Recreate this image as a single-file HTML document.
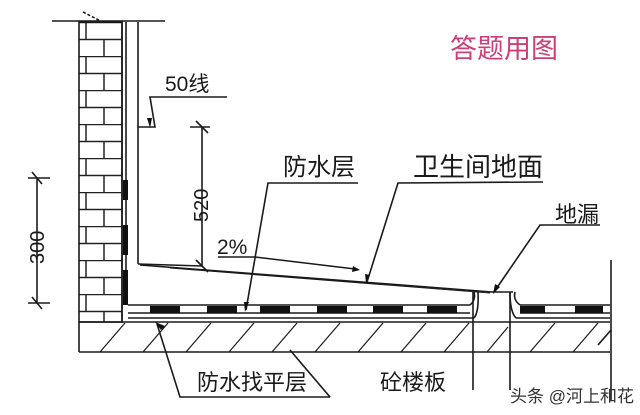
<!DOCTYPE html>
<html><head><meta charset="utf-8"><style>
html,body{margin:0;padding:0;background:#fff;width:640px;height:415px;overflow:hidden}
svg{display:block}
text{font-family:"Liberation Sans","Noto Sans CJK SC",sans-serif;fill:#1a1a1a}
</style></head><body>
<svg width="640" height="415" viewBox="0 0 640 415" xmlns="http://www.w3.org/2000/svg">
<defs>
<pattern id="br" x="79" y="22" width="43" height="34" patternUnits="userSpaceOnUse">
<rect width="43" height="34" fill="#fff"/>
<line x1="0" y1="0.5" x2="43" y2="0.5" stroke="#222" stroke-width="1.5"/>
<line x1="0" y1="17.5" x2="43" y2="17.5" stroke="#222" stroke-width="1.5"/>
<line x1="7" y1="0" x2="7" y2="17" stroke="#222" stroke-width="1.5"/>
<line x1="25" y1="17" x2="25" y2="34" stroke="#222" stroke-width="1.5"/>
</pattern>
</defs>
<g stroke="#1a1a1a" stroke-width="1.6" fill="none">
<line x1="52" y1="21" x2="165" y2="21"/>
<line x1="83" y1="12" x2="118" y2="30" stroke-dasharray="3,2"/>
<rect x="79" y="22" width="43" height="300" fill="url(#br)"/>
<line x1="122" y1="22" x2="122" y2="322"/>
<line x1="126" y1="22" x2="126" y2="305"/>
<line x1="138" y1="22" x2="138" y2="264"/>
<line x1="138" y1="264" x2="202" y2="266"/>
<line x1="140" y1="265" x2="492" y2="292"/>
<line x1="170" y1="268" x2="490" y2="293" stroke-width="1"/>
<line x1="492" y1="292" x2="513" y2="292"/>
<line x1="128" y1="305" x2="470" y2="305"/>
<line x1="128" y1="313" x2="470" y2="313"/>
<line x1="128" y1="318" x2="474" y2="318"/>
<path d="M470 305 Q476 300 474 292"/>
<path d="M474 318 Q479 312 478 292"/>
<path d="M520 305 Q513 300 515 292"/>
<path d="M516 318 Q510 312 510 292"/>
<line x1="520" y1="305" x2="610" y2="305"/>
<line x1="520" y1="313" x2="610" y2="313"/>
<line x1="516" y1="318" x2="610" y2="318"/>
<line x1="79" y1="322" x2="610" y2="322"/>
<line x1="79" y1="352" x2="610" y2="352"/>
<line x1="79" y1="322" x2="79" y2="352"/>
<line x1="473" y1="292" x2="473" y2="390"/>
<line x1="510" y1="292" x2="510" y2="390"/>
<line x1="611" y1="260" x2="611" y2="400"/>
<g stroke-width="1.2">
<line x1="100" y1="352" x2="125" y2="323"/><line x1="143" y1="352" x2="168" y2="323"/>
<line x1="186" y1="352" x2="211" y2="323"/><line x1="229" y1="352" x2="254" y2="323"/>
<line x1="272" y1="352" x2="297" y2="323"/><line x1="315" y1="352" x2="340" y2="323"/>
<line x1="358" y1="352" x2="383" y2="323"/><line x1="401" y1="352" x2="426" y2="323"/>
<line x1="444" y1="352" x2="469" y2="323"/><line x1="487" y1="352" x2="508" y2="327"/>
<line x1="530" y1="352" x2="555" y2="323"/><line x1="573" y1="352" x2="598" y2="323"/>
</g>
<polyline points="138,127 155,127 150,97 227,97"/>
<line x1="202" y1="127" x2="202" y2="266"/>
<line x1="190" y1="127" x2="210" y2="127"/>
<line x1="196" y1="121" x2="208" y2="133"/>
<line x1="196" y1="260" x2="208" y2="272"/>
<line x1="37" y1="178" x2="37" y2="303"/>
<line x1="28" y1="178" x2="50" y2="178"/>
<line x1="32" y1="172" x2="42" y2="184"/>
<line x1="28" y1="303" x2="50" y2="303"/>
<line x1="32" y1="297" x2="42" y2="309"/>
<line x1="218" y1="257" x2="255" y2="257"/>
<line x1="255" y1="257" x2="355" y2="269"/>
<polyline points="358,183 268,183 246,310"/>
<polyline points="543,182 398,183 367,282"/>
<polyline points="600,225 540,225 494,292"/>
<polyline points="330,397 180,397 157,324"/>
<line x1="330" y1="397" x2="290" y2="350"/>
<polyline points="611,330 598,345"/>
</g>
<g fill="#111">
<rect x="123" y="180" width="5" height="20"/>
<rect x="123" y="225" width="5" height="30"/>
<rect x="123" y="270" width="5" height="35"/>
<rect x="150" y="306" width="30" height="7"/><rect x="207" y="306" width="30" height="7"/>
<rect x="260" y="306" width="30" height="7"/><rect x="317" y="306" width="30" height="7"/>
<rect x="373" y="306" width="30" height="7"/><rect x="427" y="306" width="30" height="7"/>
<rect x="520" y="306" width="25" height="7"/><rect x="575" y="306" width="28" height="7"/>
<polygon points="353,266 360,270 352,272"/>
<polygon points="244,302 249,302 245,312"/>
<polygon points="365,274 370,275 366,283"/>
<polygon points="495,284 500,287 493,294"/>
<polygon points="155,322 161,330 165,326"/>
<polygon points="147,118 152,118 150,128"/>
</g>
<text x="165" y="91" font-size="21">50线</text>
<text transform="translate(208,222) rotate(-90)" font-size="20">520</text>
<text transform="translate(44,264) rotate(-90)" font-size="20">300</text>
<text x="217" y="254" font-size="21">2%</text>
<text x="283" y="175" font-size="24">防水层</text>
<text x="413" y="176" font-size="26">卫生间地面</text>
<text x="555" y="222" font-size="22">地漏</text>
<text x="197" y="390" font-size="22">防水找平层</text>
<text x="380" y="390" font-size="22">砼楼板</text>
<text x="450" y="58" font-size="27" style="fill:#cc3f78">答题用图</text>
<text x="510" y="402" font-size="17" style="fill:#333">头条 @河上和花</text>
</svg>
</body></html>
